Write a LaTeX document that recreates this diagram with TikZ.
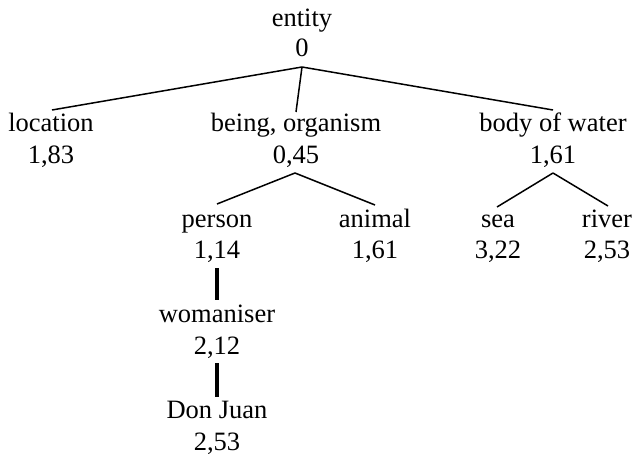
\documentclass[tikz,border=0pt]{standalone}
\usepackage{fontspec}
\setmainfont{Liberation Serif}
\begin{document}
\begin{tikzpicture}[x=1pt,y=-1pt,
  lbl/.style={anchor=base,inner sep=0pt,font=\fontsize{26.5}{30}\selectfont},
  edge/.style={line width=1.5pt},
  vedge/.style={line width=3.2pt}]
\useasboundingbox (0,0) rectangle (634,457);
% labels
\node[lbl] (ent)  at (302,27)  {entity};
\node[lbl] (entn) at (302,57)  {0};
\node[lbl] (loc)  at (51,132)  {location};
\node[lbl] (locn) at (51,164)  {1,83};
\node[lbl] (bei)  at (296,132) {being, organism};
\node[lbl] (bein) at (296,164) {0,45};
\node[lbl] (bow)  at (553,132) {body of water};
\node[lbl] (bown) at (553,164) {1,61};
\node[lbl] (per)  at (217,227) {person};
\node[lbl] (pern) at (217,258) {1,14};
\node[lbl] (ani)  at (375,227) {animal};
\node[lbl] (anin) at (375,258) {1,61};
\node[lbl] (sea)  at (498,227) {sea};
\node[lbl] (sean) at (498,258) {3,22};
\node[lbl] (riv)  at (607,227) {river};
\node[lbl] (rivn) at (607,258) {2,53};
\node[lbl] (wom)  at (217,322) {womaniser};
\node[lbl] (womn) at (217,354) {2,12};
\node[lbl] (don)  at (217,418) {Don Juan};
\node[lbl] (donn) at (217,450) {2,53};
% connector points
\coordinate (entB) at ([yshift=-10pt]entn.base);
\coordinate (locT) at ([xshift=1pt,yshift=22pt]loc.base);
\coordinate (beiT) at ([yshift=20pt]bei.base);
\coordinate (bowT) at ([yshift=22pt]bow.base);
\coordinate (beiB) at ([xshift=-1pt,yshift=-9pt]bein.base);
\coordinate (bowB) at ([yshift=-9pt]bown.base);
\coordinate (perT) at ([yshift=23pt]per.base);
\coordinate (aniT) at ([yshift=22pt]ani.base);
\coordinate (seaT) at ([xshift=-1pt,yshift=20pt]sea.base);
\coordinate (rivT) at ([xshift=1pt,yshift=21pt]riv.base);
\coordinate (perB) at ([yshift=-10pt]pern.base);
\coordinate (womT) at ([yshift=22pt]wom.base);
\coordinate (womB) at ([yshift=-9pt]womn.base);
\coordinate (donT) at ([yshift=21pt]don.base);
% connectors
\draw[edge] (entB) -- (locT);
\draw[edge] (entB) -- (beiT);
\draw[edge] (entB) -- (bowT);
\draw[edge] (beiB) -- (perT);
\draw[edge] (beiB) -- (aniT);
\draw[edge] (bowB) -- (seaT);
\draw[edge] (bowB) -- (rivT);
\draw[vedge] (perB) -- (womT);
\draw[vedge] (womB) -- (donT);
\end{tikzpicture}
\end{document}
